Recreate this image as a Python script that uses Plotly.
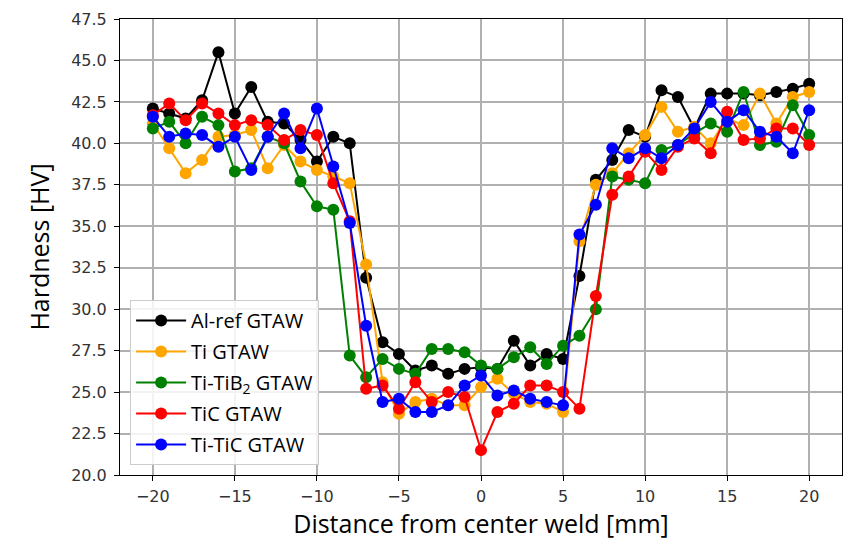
import plotly.graph_objects as go

distance = list(range(-20, 21))

al_ref = [42.1, 41.8, 41.5, 42.6, 45.5, 41.8, 43.4, 41.3, 41.2, 40.2,
          38.9, 40.4, 40.0, 31.9, 28.0, 27.3, 26.3, 26.6, 26.1, 26.4,
          26.5, 26.4, 28.1, 26.6, 27.3, 27.0, 32.0, 37.8, 39.0, 40.8,
          40.4, 43.2, 42.8, 40.9, 43.0, 43.0, 43.0, 42.9, 43.1, 43.3, 43.6]
ti = [41.2, 39.7, 38.2, 39.0, 40.4, 40.5, 40.8, 38.5, 39.9, 38.9,
      38.4, 38.0, 37.6, 32.7, 25.6, 23.7, 24.4, 24.6, 24.2, 24.2,
      25.3, 25.8, 24.9, 24.4, 24.3, 23.8, 34.1, 37.5, 38.2, 39.4,
      40.5, 42.2, 40.7, 41.0, 40.0, 41.5, 41.1, 43.0, 41.2, 42.8, 43.1]
ti_tib2 = [40.9, 41.3, 40.0, 41.6, 41.1, 38.3, 38.5, 40.4, 40.0, 37.7,
           36.2, 36.0, 27.2, 25.9, 27.0, 26.4, 26.1, 27.6, 27.6, 27.4,
           26.6, 26.4, 27.1, 27.7, 26.7, 27.8, 28.4, 30.0, 38.0, 37.8,
           37.6, 39.6, 39.9, 40.6, 41.2, 40.7, 43.1, 39.9, 40.1, 42.3, 40.5]
tic = [41.7, 42.4, 41.4, 42.4, 41.8, 41.1, 41.4, 41.1, 40.2, 40.8,
       40.5, 37.6, 35.3, 25.2, 25.4, 24.0, 25.6, 24.4, 25.0, 24.7,
       21.5, 23.8, 24.3, 25.4, 25.4, 25.0, 24.0, 30.8, 36.9, 38.0,
       39.5, 38.4, 39.8, 40.3, 39.4, 41.9, 40.2, 40.3, 40.9, 40.9, 39.9]
ti_tic = [41.6, 40.4, 40.6, 40.5, 39.8, 40.4, 38.4, 40.4, 41.8, 39.7,
          42.1, 38.6, 35.2, 29.0, 24.4, 24.6, 23.8, 23.8, 24.2, 25.4,
          26.0, 24.8, 25.1, 24.6, 24.4, 24.2, 34.5, 36.3, 39.7, 39.1,
          39.7, 39.1, 39.9, 40.9, 42.5, 41.3, 42.0, 40.7, 40.4, 39.4, 42.0]

series_names = ["Al-ref GTAW", "Ti GTAW", "Ti-TiB<sub>2</sub> GTAW", "TiC GTAW", "Ti-TiC GTAW"]
series_values = [al_ref, ti, ti_tib2, tic, ti_tic]
series_colors = ["#000000", "#FFA500", "#008000", "#FF0000", "#0000FF"]

y_ticks = [20 + 2.5 * i for i in range(12)]
x_ticks = [-20, -15, -10, -5, 0, 5, 10, 15, 20]

fig = go.Figure()
for i, (name, vals, col) in enumerate(zip(series_names, series_values, series_colors)):
    fig.add_trace(go.Scatter(
        x=distance, y=vals, name=name, mode="lines+markers",
        line=dict(color=col, width=2),
        marker=dict(color=col, size=12),
        legendgroup=f"g{i}",
    ))

axis_common = dict(
    showline=True, linecolor="black", linewidth=1, mirror=True,
    showgrid=True, gridcolor="#b0b0b0", gridwidth=1.5,
    ticks="outside", ticklen=5, tickcolor="black", tickwidth=1,
    zeroline=False,
    tickfont=dict(family="DejaVu Sans", size=16, color="#333333"),
)

fig.update_layout(
    width=846, height=542,
    margin=dict(l=120, r=4, t=19, b=67),
    paper_bgcolor="white", plot_bgcolor="white",
    xaxis=dict(range=[-22, 22], tickvals=x_ticks, ticklabelstandoff=2,
               title=dict(text="Distance from center weld [mm]",
                          font=dict(family="Open Sans", size=25, color="black"), standoff=9),
               **axis_common),
    yaxis=dict(range=[20, 47.5], tickvals=y_ticks, tickformat=".1f", ticklabelstandoff=4,
               title=dict(text="Hardness [HV]",
                          font=dict(family="Open Sans", size=25, color="black"), standoff=14),
               **axis_common),
    legend=dict(
        x=0.014, y=0.022, xanchor="left", yanchor="bottom",
        bgcolor="rgba(255,255,255,0.85)", bordercolor="#cccccc", borderwidth=1,
        font=dict(family="Open Sans", size=20, color="black"),
        traceorder="grouped", tracegroupgap=2, itemwidth=50,
    ),
    showlegend=True,
)

fig.write_html(
    "out.html",
    config={"displayModeBar": False},
    post_script="document.body.style.margin='0';document.body.style.overflow='hidden';",
)
